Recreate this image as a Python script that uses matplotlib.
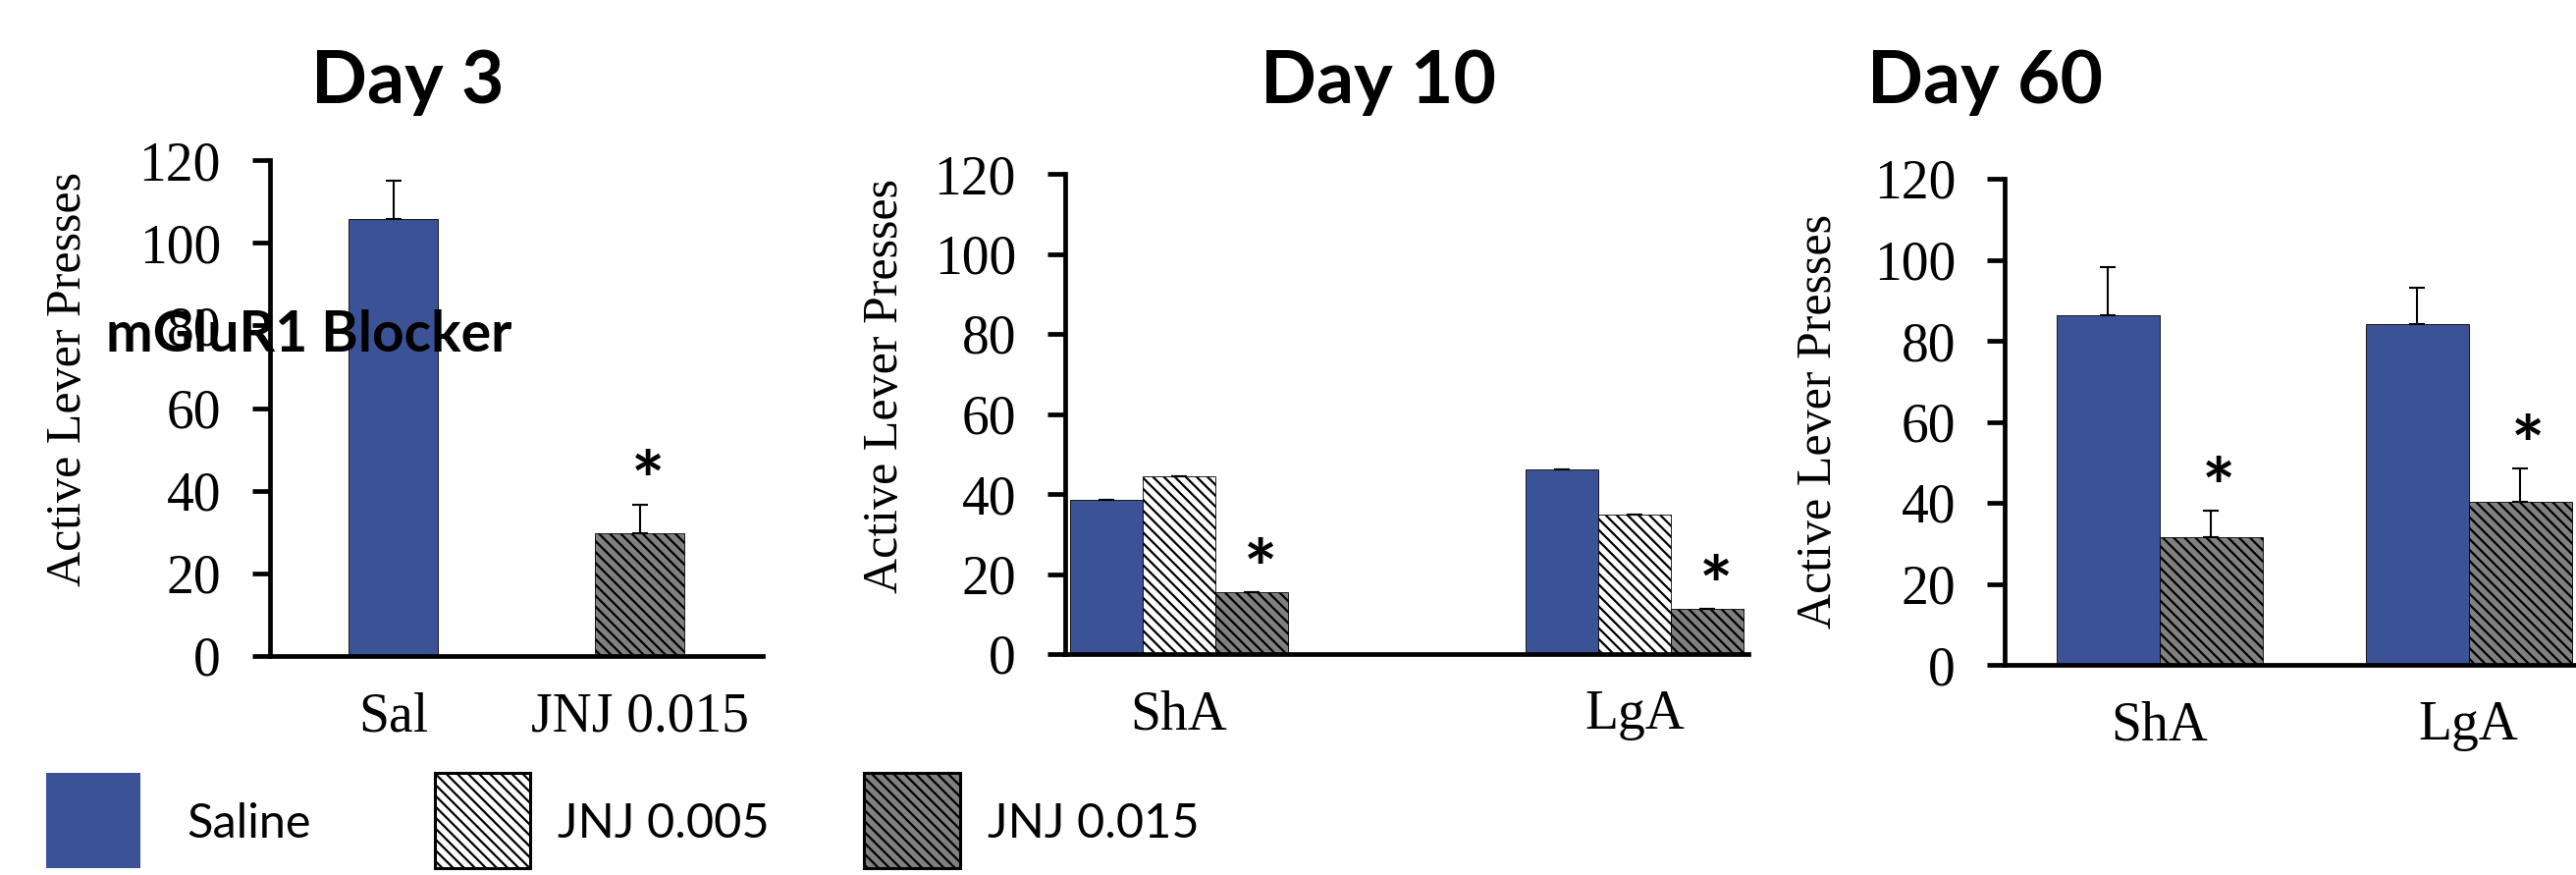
import matplotlib
matplotlib.use('Agg')
import matplotlib.pyplot as plt
from matplotlib.patches import Rectangle
import numpy as np

W, H = 2624, 891
DPI = 100

plt.rcParams['font.family'] = 'Liberation Serif'
plt.rcParams['hatch.linewidth'] = 1.6

blue = '#3B5396'
gray = '#808080'
HATCH = '\\\\\\'

# Day 3
day3_labels = ['Sal', 'JNJ 0.015']
day3_vals = [105.7, 29.8]
day3_err = [9.3, 6.9]
day3_groups = ['Saline', 'JNJ 0.015']
day3_star = [False, True]

# Day 10
day10_labels = ['ShA', 'LgA']
day10_saline = [38.5, 46.1]
day10_jnj005 = [44.4, 34.8]
day10_jnj015 = [15.5, 11.3]
day10_err = [0, 0]

# Day 60
day60_labels = ['ShA', 'LgA']
day60_saline = [86.3, 84.2]
day60_saline_err = [11.9, 9.0]
day60_jnj015 = [31.5, 40.2]
day60_jnj015_err = [6.5, 8.3]

legend_names = ['Saline', 'JNJ 0.005', 'JNJ 0.015']
styles = {
    'Saline': dict(color=blue, hatch=None),
    'JNJ 0.005': dict(color='white', hatch=HATCH),
    'JNJ 0.015': dict(color=gray, hatch=HATCH),
}

fig = plt.figure(figsize=(W / DPI, H / DPI), dpi=DPI)


def px(x, y):
    return x / W, 1 - y / H


def make_axes(left, right, top, bottom, xlim):
    ax = fig.add_axes([left / W, 1 - bottom / H, (right - left) / W, (bottom - top) / H])
    ax.set_xlim(*xlim)
    ax.set_ylim(0, 120)
    ax.set_yticks(range(0, 121, 20))
    for s in ['top', 'right']:
        ax.spines[s].set_visible(False)
    for s in ['left', 'bottom']:
        ax.spines[s].set_linewidth(3.4)
    ax.tick_params(axis='y', length=13, width=3.4, pad=23, labelsize=40)
    ax.tick_params(axis='x', length=0, pad=26, labelsize=40)
    return ax


def draw_bars(ax, x, vals, err, name, w):
    st = styles[name]
    ax.bar(x, vals, w, color=st['color'], hatch=st['hatch'], edgecolor='black',
           linewidth=0.6, yerr=[np.zeros(len(vals)), err],
           error_kw=dict(ecolor='black', elinewidth=1.5, capsize=6, capthick=1.5))


def star(ax, x, top):
    ax.annotate('*', xy=(x, top), xytext=(6, 13), textcoords='offset points',
                ha='center', va='center', fontsize=58, fontfamily='Lato',
                fontweight='bold')


# panel Day 3
ax1 = make_axes(275, 777, 163, 668, (-0.5, 1.5))
x1 = np.arange(len(day3_labels))
for i, g in enumerate(day3_groups):
    draw_bars(ax1, [x1[i]], [day3_vals[i]], [day3_err[i]], g, 0.366)
    if day3_star[i]:
        star(ax1, x1[i], day3_vals[i] + day3_err[i])
ax1.set_xticks(x1)
ax1.set_xticklabels(day3_labels)

# panel Day 10
ax2 = make_axes(1085, 1781, 177, 666, (-0.25, 1.25))
x2 = np.arange(len(day10_labels))
w2 = 0.16
draw_bars(ax2, x2 - w2, day10_saline, day10_err, 'Saline', w2)
draw_bars(ax2, x2, day10_jnj005, day10_err, 'JNJ 0.005', w2)
draw_bars(ax2, x2 + w2, day10_jnj015, day10_err, 'JNJ 0.015', w2)
for i in range(len(x2)):
    star(ax2, x2[i] + w2, day10_jnj015[i] + day10_err[i])
ax2.set_xticks(x2)
ax2.set_xticklabels(day10_labels)

# panel Day 60
ax3 = make_axes(2042, 2672, 182, 677, (-0.5, 1.5))
x3 = np.arange(len(day60_labels))
w3 = 1 / 3
draw_bars(ax3, x3 - w3 / 2, day60_saline, day60_saline_err, 'Saline', w3)
draw_bars(ax3, x3 + w3 / 2, day60_jnj015, day60_jnj015_err, 'JNJ 0.015', w3)
for i in range(len(x3)):
    star(ax3, x3[i] + w3 / 2, day60_jnj015[i] + day60_jnj015_err[i])
ax3.set_xticks(x3)
ax3.set_xticklabels(day60_labels)

# y labels
for (x, y) in [(70, 386), (902, 393), (1853, 429)]:
    fig.text(*px(x, y), 'Active Lever Presses', rotation=90, ha='center',
             va='center', fontsize=36)

# titles
for t, x in [('Day 3', 415), ('Day 10', 1404), ('Day 60', 2022)]:
    fig.text(*px(x, 105), t, ha='center', va='baseline', fontsize=54,
             fontfamily='Lato', fontweight='bold')

# overlaps the Day 3 axis, as in the original
fig.text(*px(108, 358), 'mGluR1 Blocker', ha='left', va='baseline', fontsize=41,
         fontfamily='Lato', fontweight='bold')

# legend
leg_boxes = [(47, 143), (443, 540), (880, 978)]
leg_text_x = [190, 568, 1006]
for name, (l, r), tx in zip(legend_names, leg_boxes, leg_text_x):
    st = styles[name]
    rect = Rectangle(px(l, 884), (r - l) / W, 97 / H, transform=fig.transFigure,
                     facecolor=st['color'], edgecolor='black' if st['hatch'] else st['color'],
                     hatch=st['hatch'], linewidth=2.2 if st['hatch'] else 0)
    fig.add_artist(rect)
    fig.text(*px(tx, 853), name, ha='left', va='baseline', fontsize=35,
             fontfamily='Lato')

fig.savefig('out.png', dpi=DPI)
